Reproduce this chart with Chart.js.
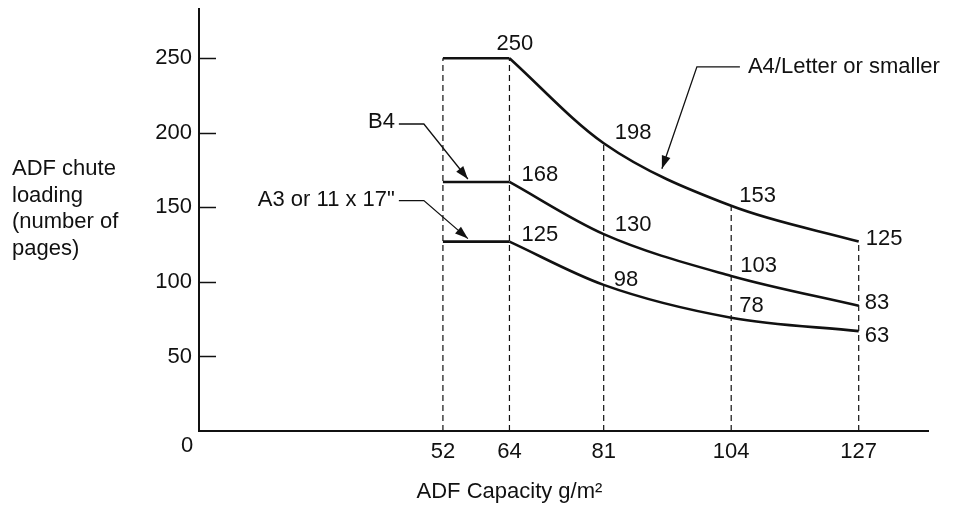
<!DOCTYPE html>
<html>
<head>
<meta charset="utf-8">
<script src="https://cdn.jsdelivr.net/npm/chart.js@4.4.1/dist/chart.umd.min.js"></script>
<style>
  html, body { margin: 0; padding: 0; background: #fff; }
  #wrap { width: 955px; height: 510px; position: relative; }
</style>
</head>
<body>
<div id="wrap"><canvas id="chart"></canvas></div>
<script>
// x values (paper weight, g/m2) and tick labels
const capacities = [52, 64, 81, 104, 127];
const flatX  = [52, 64];
const curveX = [64, 81, 104, 127];
const yTicks = [50, 100, 150, 200, 250];

// drawn line values
const a4Flat  = [250, 250];
const a4Curve = [250, 193, 151, 127];
const b4Flat  = [167, 167];
const b4Curve = [167, 132, 104, 84];
const a3Flat  = [127, 127];
const a3Curve = [127, 98, 76, 67];

// printed numbers next to the curves (at curveX)
const a4Labels = ['250', '198', '153', '125'];
const b4Labels = ['168', '130', '103', '83'];
const a3Labels = ['125', '98', '78', '63'];

const seriesNames = ['A4/Letter or smaller', 'B4', 'A3 or 11 x 17"'];

const FONT = '"Liberation Sans", Arial, Helvetica, sans-serif';
const INK  = '#111';

const pts = (xs, ys) => xs.map((x, i) => ({ x, y: ys[i] }));

// top of each dashed guide = A4 value at that weight
const guideTop = x => {
    const i = curveX.indexOf(x);
    return i >= 0 ? a4Curve[i] : a4Flat[flatX.indexOf(x)];
};

const solid = (data, curved) => ({
    data, borderColor: INK, borderWidth: 2.6, pointRadius: 0,
    tension: 0, cubicInterpolationMode: curved ? 'monotone' : 'default',
});

const datasets = [
    solid(pts(flatX, a4Flat), false), solid(pts(curveX, a4Curve), true),
    solid(pts(flatX, b4Flat), false), solid(pts(curveX, b4Curve), true),
    solid(pts(flatX, a3Flat), false), solid(pts(curveX, a3Curve), true),
    ...capacities.map(x => ({
        data: [{ x, y: 0 }, { x, y: guideTop(x) }],
        borderColor: INK, borderWidth: 1.2, borderDash: [6, 4], pointRadius: 0,
    })),
];

// label offsets (px) from the point they annotate: [dx, dy], text left/middle
const labelSets = [
    { vals: a4Curve, text: a4Labels, off: [[-13, -14], [11, -10], [8, -10], [7, -3]] },
    { vals: b4Curve, text: b4Labels, off: [[12, -7], [11, -9], [9, -10], [6, -3]] },
    { vals: a3Curve, text: a3Labels, off: [[12, -7], [10, -5], [8, -12], [6, 5]] },
];

// callouts: tip x in data units on a series, then elbow / end / text offsets in px
const callouts = [
    { name: seriesNames[0], xs: curveX, ys: a4Curve, at: 91.5, elbow: [35, -102], end: [78, -102], text: [86, -102], align: 'left' },
    { name: seriesNames[1], xs: flatX, ys: b4Flat, at: 56.5, elbow: [-44, -55], end: [-69, -55], text: [-73, -57], align: 'right' },
    { name: seriesNames[2], xs: flatX, ys: a3Flat, at: 56.5, elbow: [-44, -38], end: [-69, -38], text: [-73, -39], align: 'right' },
];

function interp(xs, ys, x) {
    for (let i = 0; i < xs.length - 1; i++) {
        if (x >= xs[i] && x <= xs[i + 1]) {
            const t = (x - xs[i]) / (xs[i + 1] - xs[i]);
            return ys[i] + t * (ys[i + 1] - ys[i]);
        }
    }
    return ys[ys.length - 1];
}

function arrowHead(ctx, fx, fy, tx, ty) {
    const a = Math.atan2(ty - fy, tx - fx), len = 13, w = 4.5;
    ctx.beginPath();
    ctx.moveTo(tx, ty);
    ctx.lineTo(tx - len * Math.cos(a) + w * Math.sin(a), ty - len * Math.sin(a) - w * Math.cos(a));
    ctx.lineTo(tx - len * Math.cos(a) - w * Math.sin(a), ty - len * Math.sin(a) + w * Math.cos(a));
    ctx.closePath();
    ctx.fill();
}

const decorations = {
    id: 'decorations',
    afterDatasetsDraw(chart) {
        const { ctx, chartArea: area, scales: { x: xs, y: ys } } = chart;
        ctx.save();
        ctx.strokeStyle = INK;
        ctx.fillStyle = INK;

        // inward tick marks on the y axis
        ctx.lineWidth = 1.5;
        yTicks.forEach(v => {
            const py = Math.round(ys.getPixelForValue(v)) + 0.5;
            ctx.beginPath();
            ctx.moveTo(area.left, py);
            ctx.lineTo(area.left + 17, py);
            ctx.stroke();
        });

        ctx.font = '22px ' + FONT;
        ctx.textBaseline = 'middle';

        // origin label sits below-left of the corner
        ctx.textAlign = 'center';
        ctx.fillText('0', area.left - 12, area.bottom + 15);

        // value labels next to the curves
        ctx.textAlign = 'left';
        labelSets.forEach(set => {
            curveX.forEach((xv, i) => {
                const px = xs.getPixelForValue(xv) + set.off[i][0];
                const py = ys.getPixelForValue(set.vals[i]) + set.off[i][1];
                ctx.fillText(set.text[i], px, py);
            });
        });

        // series callouts with arrows
        ctx.lineWidth = 1.3;
        callouts.forEach(c => {
            const tx = xs.getPixelForValue(c.at);
            const ty = ys.getPixelForValue(interp(c.xs, c.ys, c.at)) - 3;
            const ex = tx + c.elbow[0], ey = ty + c.elbow[1];
            ctx.beginPath();
            ctx.moveTo(tx + c.end[0], ty + c.end[1]);
            ctx.lineTo(ex, ey);
            ctx.lineTo(tx, ty);
            ctx.stroke();
            arrowHead(ctx, ex, ey, tx, ty);
            ctx.textAlign = c.align;
            ctx.fillText(c.name, tx + c.text[0], ty + c.text[1]);
        });

        // y axis title, horizontal lines at the left
        ctx.textAlign = 'left';
        ['ADF chute', 'loading', '(number of', 'pages)'].forEach((line, i) => {
            ctx.fillText(line, 12, area.top + 160 + i * 26.6);
        });

        // x axis title, centred under the 64 g/m2 mark
        ctx.textAlign = 'center';
        ctx.fillText('ADF Capacity g/m\u00B2', xs.getPixelForValue(64), area.bottom + 61);

        ctx.restore();
    },
};

new Chart(document.getElementById('chart'), {
    type: 'line',
    data: { datasets },
    options: {
        responsive: true,
        maintainAspectRatio: false,
        animation: false,
        layout: { padding: { left: 129, top: 9, right: 27, bottom: 0 } },
        plugins: { legend: { display: false }, tooltip: { enabled: false } },
        scales: {
            x: {
                type: 'linear', min: 8, max: 139.5,
                grid: { display: false, drawTicks: false },
                border: { display: true, color: INK, width: 2 },
                ticks: { padding: 8, color: INK, font: { size: 22, family: FONT }, autoSkip: false, maxRotation: 0 },
                afterBuildTicks: s => { s.ticks = capacities.map(v => ({ value: v })); },
                afterFit: s => { s.height = 79; s.paddingLeft = 0; s.paddingRight = 0; },
            },
            y: {
                type: 'linear', min: 0, max: 283,
                grid: { display: false, drawTicks: false },
                border: { display: true, color: INK, width: 2 },
                ticks: { padding: 7, color: INK, font: { size: 22, family: FONT } },
                afterBuildTicks: s => { s.ticks = yTicks.map(v => ({ value: v })); },
                afterFit: s => { s.width = 70; s.paddingTop = 0; s.paddingBottom = 0; },
            },
        },
    },
    plugins: [decorations],
});
</script>
</body>
</html>
